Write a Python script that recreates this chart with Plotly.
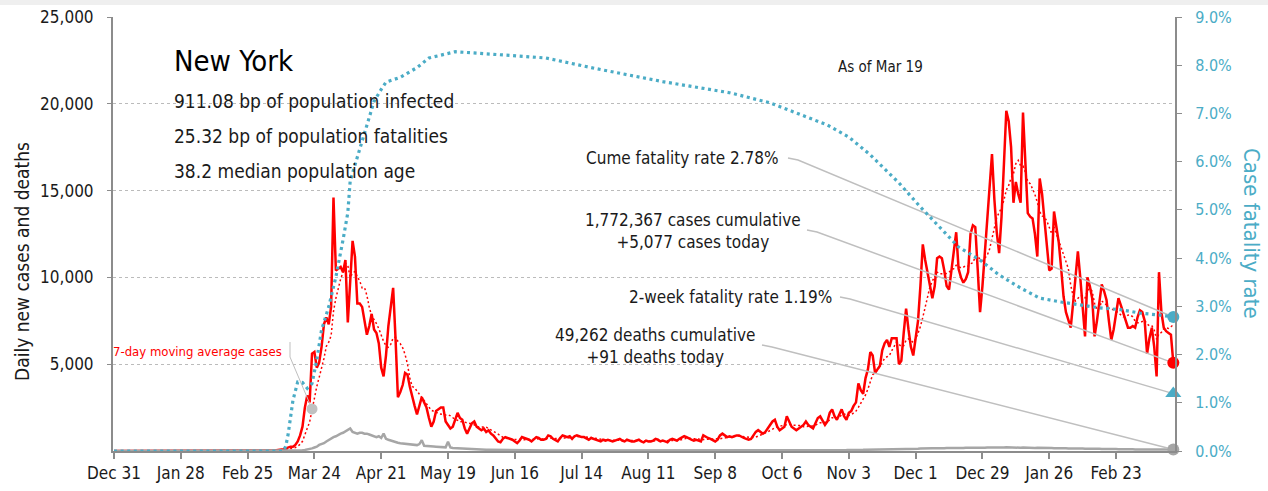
import pandas as pd
import plotly.graph_objects as go

# ---- data ----
state = "New York"
as_of = "Mar 19"
stats = ["911.08 bp of population infected",
         "25.32 bp of population fatalities",
         "38.2 median population age"]
cume_cases = 1772367
cases_today = 5077
cume_deaths = 49262
deaths_today = 91
cume_cfr = 2.78
two_week_cfr = 1.19

chart_start = "2019-12-31"
series_start = "2020-03-01"

# daily new cases from Mar 1 2020 to Mar 19 2021
cases = [
    0, 0, 0, 0, 10, 20, 30, 50, 60, 80,
    100, 150, 200, 250, 250, 350, 550, 900, 1400, 2500,
    3200, 2800, 5600, 5700, 4800, 5100, 6000, 7300, 7700, 7300,
    8300, 14600, 10400, 10500, 10600, 10300, 11000, 7400, 9800, 12100,
    11200, 8500, 8500, 8300, 7500, 6700, 7200, 7900, 7000, 6800,
    6200, 4800, 4300, 5500, 7200, 8200, 9400, 6500, 3100, 3400,
    3800, 4500, 4400, 3700, 3100, 2600, 2100, 2600, 3100, 2800,
    2500, 1900, 1400, 1700, 2300, 2400, 2500, 2500, 1700, 1500,
    1300, 1400, 1800, 2200, 1900, 1800, 1300, 1000, 1300, 1600,
    1700, 1400, 1300, 1200, 1300, 1100, 1200, 1000, 900, 700,
    550, 500, 700, 800, 750, 700, 650, 550, 450, 600,
    800, 750, 700, 650, 550, 700, 800, 750, 650, 650,
    700, 900, 850, 700, 600, 550, 750, 900, 850, 800,
    850, 700, 850, 900, 850, 800, 800, 700, 650, 750,
    700, 650, 600, 550, 650, 600, 650, 600, 550, 600,
    650, 700, 600, 550, 650, 600, 550, 550, 600, 650,
    550, 500, 600, 550, 550, 600, 700, 650, 550, 600,
    550, 500, 650, 700, 650, 600, 700, 800, 850, 800,
    700, 650, 600, 650, 600, 550, 900, 800, 750, 700,
    600, 550, 650, 900, 1000, 900, 800, 850, 800, 850,
    900, 900, 800, 750, 700, 650, 700, 900, 1100, 1200,
    1100, 1000, 1100, 1300, 1500, 1700, 1800, 1400, 1200, 1300,
    1400, 2000, 1700, 1400, 1300, 1200, 1300, 1400, 1500, 1700,
    1500, 1400, 1300, 1600, 1900, 2000, 1700, 1500, 1700, 2200,
    2400, 2000, 1800, 2100, 2400, 2000, 1800, 2200, 2300, 2600,
    2800, 3900, 3500, 3300, 4200, 4700, 5700, 5500, 4500, 4700,
    4900, 5800, 6200, 6400, 6000, 6500, 6500, 6500, 5000, 5200,
    6800, 8200, 7000, 6000, 5500, 6500, 7500, 9500, 11900, 11000,
    10300, 9500, 8800, 9500, 11100, 11200, 11100, 10400, 9500, 9300,
    10500, 11500, 12600, 10500, 10000, 9700, 9900, 10300, 12500, 13000,
    12900, 10500, 8000, 9500, 11500, 13500, 15500, 17100, 14500, 12600,
    11400, 13500, 16500, 19600, 19000, 17500, 14300, 15500, 14800, 14300,
    19500, 16500, 13700, 13500, 13400, 12500, 11200, 15700, 14800, 13300,
    11800, 10400, 10500, 13800, 12900, 12000, 10500, 8900, 8000, 7500,
    7100, 8500, 10000, 11500, 10000, 8000, 6600, 10000, 9500, 8800,
    6600, 7500, 8500, 9600, 9200, 8700, 7500, 6400, 7000, 8000,
    8800, 8400, 8000, 7500, 7100, 7100, 7200, 7100, 7700, 8100,
    8000, 7500, 5600, 6500, 7100, 6000, 4300, 10300, 8000, 7100,
    6900, 6800, 6700, 5077,
]

# daily new deaths, same dates
deaths = [
    0, 0, 0, 0, 0, 0, 0, 0, 0, 0,
    0, 0, 0, 0, 5, 10, 20, 30, 40, 60,
    80, 120, 150, 200, 250, 350, 400, 450, 550, 650,
    700, 800, 850, 950, 1000, 1050, 1150, 1250, 1300, 1100,
    1050, 1000, 1050, 1050, 1000, 1000, 950, 900, 850, 800,
    850, 750, 1000, 700, 650, 600, 550, 500, 480, 450,
    430, 420, 400, 380, 370, 350, 340, 400, 620, 300,
    280, 270, 250, 260, 250, 240, 230, 220, 210, 530,
    200, 170, 160, 150, 140, 130, 120, 110, 100, 100,
    90, 90, 80, 80, 80, 70, 70, 70, 60, 60,
    60, 60, 50, 50, 50, 50, 40, 40, 40, 40,
    40, 40, 40, 40, 30, 30, 30, 30, 30, 30,
    30, 30, 25, 25, 30, 30, 25, 25, 20, 25,
    25, 20, 20, 25, 20, 20, 20, 15, 20, 20,
    20, 15, 15, 20, 15, 15, 20, 15, 15, 15,
    15, 15, 20, 15, 15, 15, 15, 15, 15, 15,
    15, 15, 15, 15, 15, 20, 15, 15, 15, 15,
    15, 15, 15, 15, 15, 15, 20, 15, 15, 15,
    15, 15, 15, 15, 15, 20, 15, 15, 15, 15,
    15, 15, 15, 20, 15, 15, 15, 15, 20, 20,
    15, 20, 20, 20, 15, 20, 20, 15, 20, 20,
    20, 20, 20, 25, 20, 20, 25, 25, 20, 25,
    25, 25, 30, 30, 25, 30, 30, 30, 35, 30,
    35, 35, 30, 40, 35, 40, 40, 45, 40, 45,
    45, 50, 50, 45, 50, 55, 55, 60, 55, 60,
    60, 65, 70, 65, 70, 75, 80, 70, 80, 85,
    85, 90, 90, 95, 100, 95, 100, 110, 105, 110,
    115, 120, 110, 125, 130, 120, 130, 140, 135, 140,
    150, 140, 155, 160, 150, 165, 170, 160, 175, 170,
    180, 175, 170, 185, 180, 170, 190, 185, 180, 195,
    190, 185, 200, 195, 190, 205, 200, 195, 210, 200,
    205, 200, 195, 210, 200, 190, 205, 200, 195, 190,
    200, 190, 185, 195, 190, 180, 185, 190, 180, 175,
    180, 170, 175, 165, 170, 160, 165, 155, 160, 150,
    155, 150, 145, 150, 140, 145, 135, 140, 130, 135,
    130, 125, 130, 120, 125, 115, 120, 110, 115, 110,
    105, 110, 100, 105, 95, 100, 95, 90, 95, 90,
    90, 85, 90, 85, 90, 85, 80, 85, 80, 85,
    80, 85, 80, 91,
]

# cumulative case fatality rate, %
cfr_dates = [
    "2019-12-31", "2020-03-11", "2020-03-12", "2020-03-13", "2020-03-14",
    "2020-03-15", "2020-03-17", "2020-03-19", "2020-03-21", "2020-03-23",
    "2020-03-25", "2020-03-27", "2020-03-30", "2020-04-02", "2020-04-05",
    "2020-04-07", "2020-04-08", "2020-04-11", "2020-04-15", "2020-04-18",
    "2020-04-21", "2020-04-23", "2020-04-29", "2020-05-06", "2020-05-11",
    "2020-05-22", "2020-06-15", "2020-06-29", "2020-07-20", "2020-08-17",
    "2020-09-14", "2020-10-01", "2020-10-25", "2020-11-03", "2020-11-12",
    "2020-11-24", "2020-12-03", "2020-12-11", "2020-12-19", "2020-12-28",
    "2021-01-05", "2021-01-14", "2021-01-22", "2021-01-31", "2021-02-08",
    "2021-02-16", "2021-02-25", "2021-03-05", "2021-03-13", "2021-03-19",
]
cfr_pct = [
    0.0, 0.0, 0.1, 0.35, 0.7,
    1.05, 1.43, 1.42, 1.3, 1.4,
    1.89, 2.51, 2.99, 3.61, 4.38,
    4.94, 5.6, 6.1, 6.8, 7.25,
    7.5, 7.65, 7.75, 7.95, 8.15,
    8.28, 8.2, 8.15, 7.93, 7.66,
    7.43, 7.22, 6.76, 6.51, 6.14,
    5.56, 5.06, 4.65, 4.23, 3.96,
    3.65, 3.38, 3.17, 3.09, 3.03,
    2.97, 2.93, 2.86, 2.82, 2.78,
]

y_ticks = [5000, 10000, 15000, 20000, 25000]
y_max = 25000
y2_max = 9.0

# ---- styling ----
FONT = "DejaVu Sans Condensed, DejaVu Sans, sans-serif"
RED = "#FF0000"
CYAN = "#4BACC6"
GRAY = "#A6A6A6"
LEADER = "#BFBFBF"
AXIS = "#8C8C8C"
TXT = "#1A1A1A"

W, H = 1268, 491
# plot area in pixels
L, R, T, B = 113, 1175, 17, 451
x_lo = pd.Timestamp("2019-12-30 14:00")
x_hi = pd.Timestamp("2021-03-19 17:00")


def to_data(px, py):
    return x_lo + (px - L) / (R - L) * (x_hi - x_lo), (B - py) / (B - T) * y_max


def to_paper(px, py):
    return (px - L) / (R - L), (B - py) / (B - T)


def pct_on_y1(p):
    return p / y2_max * y_max


def note(text, px, py, size, color=TXT, anchor="left", angle=0):
    x, y = to_paper(px, py)
    return dict(text=text, x=x, y=y, xref="paper", yref="paper",
                xanchor=anchor, yanchor="middle", showarrow=False, align="center",
                textangle=angle, font=dict(size=size, color=color, family=FONT))


def end_marker(y, color, size, symbol="circle", axis="y"):
    return go.Scatter(x=[last], y=[y], yaxis=axis, mode="markers", cliponaxis=False,
                      marker=dict(color=color, size=size, symbol=symbol))


# ---- frame ----
full = pd.date_range(chart_start, "2021-03-19", freq="D")
df = pd.DataFrame({"cases": cases, "deaths": deaths},
                  index=pd.date_range(series_start, periods=len(cases), freq="D"))
df = df.reindex(full, fill_value=0)
df["ma"] = df["cases"].rolling(7).mean()
last = df.index[-1]

fig = go.Figure()
fig.add_trace(go.Scatter(x=df.index, y=df["cases"], mode="lines",
                         line=dict(color=RED, width=2.5)))
fig.add_trace(go.Scatter(x=df.index, y=df["ma"], mode="lines",
                         line=dict(color=RED, width=1.5, dash="2px,2.5px")))
fig.add_trace(go.Scatter(x=df.index, y=df["deaths"], mode="lines",
                         line=dict(color=GRAY, width=2.5)))
fig.add_trace(go.Scatter(x=pd.to_datetime(cfr_dates), y=[v / 100 for v in cfr_pct],
                         mode="lines", yaxis="y2",
                         line=dict(color=CYAN, width=3.2, dash="3px,3.6px")))

# ---- call-outs with leader lines ----
callouts = [
    dict(text=f"Cume fatality rate {cume_cfr:.2f}%", pos=(781, 158), anchor="right",
         lead=[(788, 158), (798, 160)], end=pct_on_y1(cume_cfr)),
    dict(text=f"{cume_cases:,} cases cumulative<br>+{cases_today:,} cases today",
         pos=(693, 231), anchor="center",
         lead=[(807, 230), (817, 232)], end=cases_today),
    dict(text=f"2-week fatality rate {two_week_cfr:.2f}%", pos=(834, 297), anchor="right",
         lead=[(840, 297), (850, 299)], end=pct_on_y1(two_week_cfr)),
    dict(text=f"{cume_deaths:,} deaths cumulative<br>+{deaths_today} deaths today",
         pos=(655, 346), anchor="center",
         lead=[(762, 345), (772, 347)], end=deaths_today),
]

annotations = []
for c in callouts:
    pts = [to_data(*p) for p in c["lead"]] + [(last, c["end"])]
    fig.add_trace(go.Scatter(x=[p[0] for p in pts], y=[p[1] for p in pts], mode="lines",
                             line=dict(color=LEADER, width=1.5), cliponaxis=False))
    annotations.append(note(c["text"], *c["pos"], 17, anchor=c["anchor"]))

# moving-average label pointer
ma_date = pd.Timestamp("2020-03-23")
ma_pts = [to_data(290, 342), to_data(290, 357), (ma_date, df.loc[ma_date, "ma"])]
fig.add_trace(go.Scatter(x=[p[0] for p in ma_pts], y=[p[1] for p in ma_pts], mode="lines",
                         line=dict(color=LEADER, width=1)))
fig.add_trace(go.Scatter(x=[ma_date], y=[df.loc[ma_date, "ma"]], mode="markers",
                         marker=dict(color="#C0C0C0", size=11)))
annotations.append(note("7-day moving average cases", 284, 351, 13, RED, "right"))

# end-of-series markers
fig.add_trace(end_marker(cume_cfr / 100, CYAN, 12, axis="y2"))
fig.add_trace(end_marker(two_week_cfr / 100, CYAN, 14, "triangle-up", axis="y2"))
fig.add_trace(end_marker(cases_today, RED, 12))
fig.add_trace(end_marker(deaths_today, GRAY, 12))

# title block
annotations.append(note(state, 172, 61, 29, "#000"))
for i, s in enumerate(stats):
    annotations.append(note(s, 172, 101 + i * 35, 19))
annotations.append(note(f"As of {as_of}", 880, 67, 15, anchor="center"))

# axis titles
annotations.append(note("Daily new cases and deaths", 22, 262, 19, anchor="center", angle=-90))
annotations.append(note("Case fatality rate", 1251, 233, 22, CYAN, anchor="center", angle=90))

axis_common = dict(showline=True, linecolor=AXIS, linewidth=2, zeroline=False,
                   ticks="outside", tickcolor=AXIS, automargin=False)

fig.update_layout(
    width=W, height=H,
    margin=dict(l=L, r=W - R, t=T, b=H - B, autoexpand=False),
    paper_bgcolor="white", plot_bgcolor="white",
    showlegend=False,
    font=dict(family=FONT, color=TXT),
    annotations=annotations,
    shapes=[dict(type="rect", xref="paper", yref="paper",
                 x0=-L / (R - L), x1=(W - L) / (R - L),
                 y0=(B - 5) / (B - T), y1=B / (B - T) + 0.01,
                 fillcolor="#EFEFEF", line=dict(width=0), layer="below")],
    xaxis=dict(type="date", range=[x_lo, x_hi], tick0=chart_start,
               dtick=28 * 86400000, tickformat="%b %-d", showgrid=False,
               ticklen=6, tickwidth=1.5,
               tickfont=dict(size=17, color=TXT, family=FONT), **axis_common),
    yaxis=dict(range=[0, y_max], tickvals=y_ticks, tickformat=",",
               showgrid=True, gridcolor="#BBBBBB", griddash="dot", gridwidth=1,
               ticklen=4, ticklabelstandoff=10,
               tickfont=dict(size=17, color=TXT, family=FONT), **axis_common),
    yaxis2=dict(overlaying="y", side="right", range=[0, y2_max / 100], dtick=0.01,
                tickformat=".1%", showgrid=False, ticklen=5, ticklabelstandoff=10,
                tickfont=dict(size=16, color=CYAN, family=FONT), **axis_common),
)

# the page body has a default 8px margin; drop it so the figure sits at the origin
fig.write_html("out.html", config={"displayModeBar": False},
               post_script="document.body.style.margin='0';")
